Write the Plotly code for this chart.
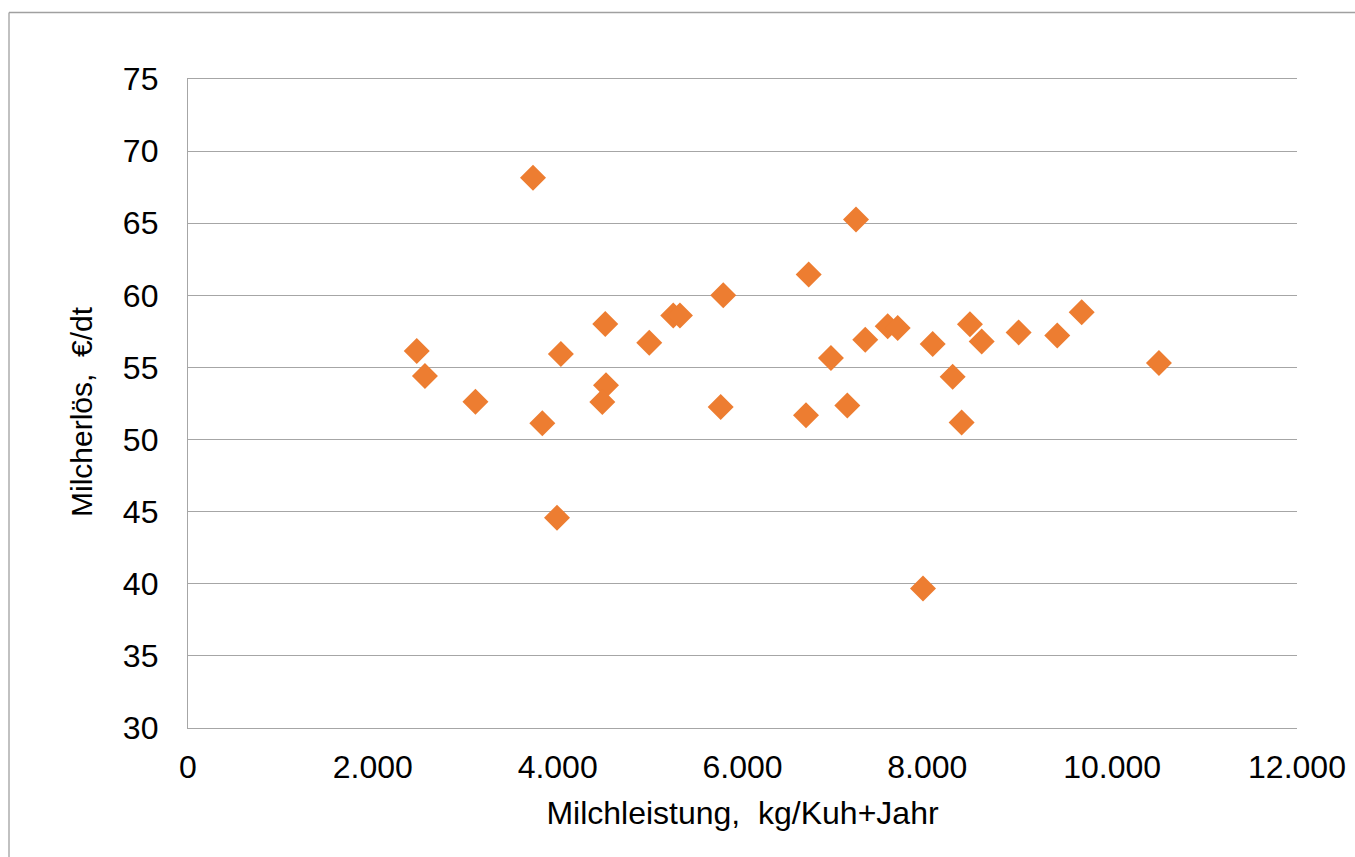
import plotly.graph_objects as go

milchleistung = [2475, 2564, 3110, 3733, 3834, 3993, 4035, 4515, 4523, 4483,
                 4991, 5251, 5323, 5792, 5764, 6687, 6716, 6957, 7134, 7228,
                 7328, 7571, 7679, 7953, 8058, 8274, 8371, 8461, 8588, 8988,
                 9406, 9670, 10506]
milcherloes = [56.14, 54.41, 52.63, 68.15, 51.13, 44.58, 55.93, 58.02, 53.76, 52.6,
               56.72, 58.6, 58.6, 60.0, 52.26, 51.69, 61.44, 55.65, 52.36, 65.25,
               56.92, 57.85, 57.74, 39.67, 56.63, 54.35, 51.19, 58.0, 56.8, 57.43,
               57.22, 58.82, 55.3]

x_ticks = [0, 2000, 4000, 6000, 8000, 10000, 12000]
x_tick_labels = ["0", "2.000", "4.000", "6.000", "8.000", "10.000", "12.000"]
y_ticks = [30, 35, 40, 45, 50, 55, 60, 65, 70, 75]

x_title = "Milchleistung,  kg/Kuh+Jahr"
y_title = "Milcherlös,  €/dt"

W, H = 1355, 857
ml, mr, mt, mb = 188, 58, 79, 129
pw, ph = W - ml - mr, H - mt - mb

grid_col = "#a6a6a6"

fig = go.Figure()
fig.add_trace(go.Scatter(
    x=milchleistung, y=milcherloes, mode="markers",
    marker=dict(symbol="diamond", size=20, color="#ED7D31",
                line=dict(width=0)),
    showlegend=False, cliponaxis=False,
))

tick_font = dict(family="Liberation Sans, Arial, sans-serif", size=32, color="#000000")
title_font = dict(family="Liberation Sans, Arial, sans-serif", size=32, color="#000000")
ytitle_font = dict(family="Liberation Sans, Arial, sans-serif", size=30, color="#000000")

fig.update_layout(
    width=W, height=H,
    margin=dict(l=ml, r=mr, t=mt, b=mb, autoexpand=False),
    paper_bgcolor="white", plot_bgcolor="white",
    font=tick_font,
    xaxis=dict(
        range=[0, 12000], tickvals=x_ticks, ticktext=x_tick_labels,
        automargin=False,
        showgrid=False, zeroline=False,
        showline=True, mirror=True, linecolor=grid_col, linewidth=1.3,
        ticks="", ticklabelstandoff=10, tickfont=tick_font,
        title=dict(text=x_title, font=title_font, standoff=18),
    ),
    yaxis=dict(
        range=[30, 75], tickvals=y_ticks,
        automargin=False,
        showgrid=True, gridcolor=grid_col, gridwidth=1.3,
        zeroline=False, showline=True, linecolor=grid_col, linewidth=1.3,
        ticks="", ticklabelstandoff=22, tickfont=tick_font,
    ),
)

# y-axis title (placed slightly below centre, as in the original)
fig.add_annotation(
    text=y_title, textangle=-90, showarrow=False,
    xref="paper", yref="paper",
    x=(81 - ml) / pw, y=1 - (412 - mt) / ph,
    xanchor="center", yanchor="middle", font=ytitle_font,
)

# outer chart-area frame (cropped at right and bottom)
fx0 = (9 - ml) / pw
fy1 = 1 + (mt - 12.5) / ph
fig.add_shape(type="line", xref="paper", yref="paper",
              x0=fx0, x1=fx0, y0=-1, y1=fy1,
              line=dict(color="#a0a0a0", width=1.3))
fig.add_shape(type="line", xref="paper", yref="paper",
              x0=fx0, x1=2, y0=fy1, y1=fy1,
              line=dict(color="#a0a0a0", width=1.3))

fig.write_html("out.html", config={"displayModeBar": False},
               post_script="document.body.style.margin='0';document.body.style.overflow='hidden';")
